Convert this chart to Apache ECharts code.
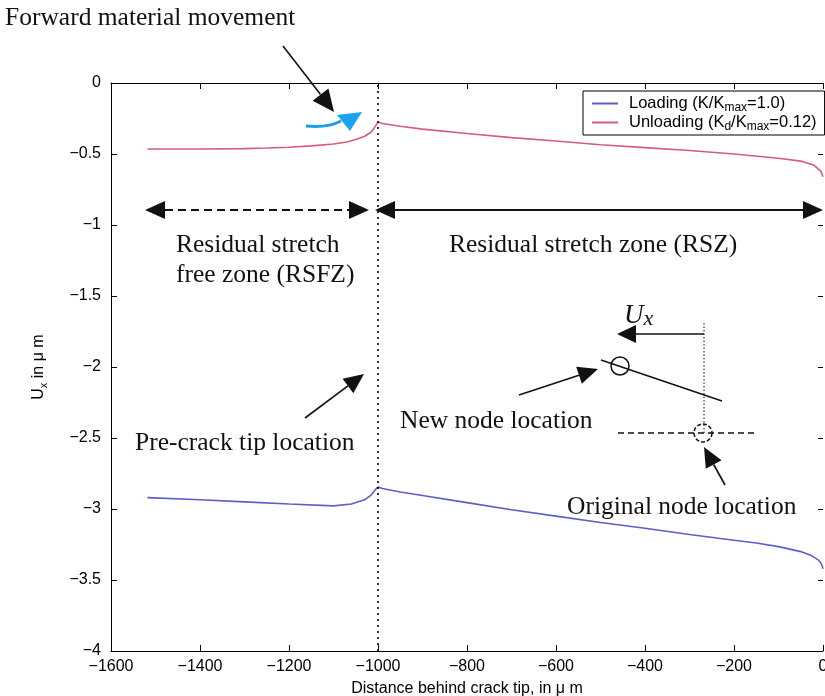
<!DOCTYPE html>
<html><head><meta charset="utf-8">
<script src="https://cdn.jsdelivr.net/npm/echarts@6/dist/echarts.min.js"></script>
<style>html,body{margin:0;padding:0;background:#fff}#c{width:825px;height:696px}</style>
</head><body><div id="c"></div>
<script>
// ---- data ----
const unloadingX = [-1518,-1400,-1300,-1250,-1200,-1150,-1100,-1070,-1050,-1030,-1015,-1005,-1000,-990,-950,-900,-800,-700,-600,-500,-400,-300,-200,-100,-50,-20,-5,0];
const unloadingY = [-0.465,-0.465,-0.462,-0.458,-0.452,-0.443,-0.43,-0.415,-0.398,-0.375,-0.345,-0.30,-0.275,-0.285,-0.305,-0.325,-0.356,-0.385,-0.408,-0.435,-0.455,-0.475,-0.50,-0.53,-0.55,-0.58,-0.62,-0.66];
const loadingX = [-1518,-1400,-1300,-1200,-1100,-1060,-1030,-1015,-1005,-1000,-990,-950,-900,-800,-700,-600,-500,-400,-300,-200,-150,-100,-50,-25,-10,-3,0];
const loadingY = [-2.92,-2.935,-2.95,-2.965,-2.978,-2.965,-2.935,-2.90,-2.86,-2.845,-2.855,-2.88,-2.905,-2.955,-3.005,-3.05,-3.095,-3.135,-3.18,-3.22,-3.24,-3.265,-3.30,-3.33,-3.36,-3.39,-3.42];
const xRange = [-1600, 0], xStep = 200;
const yRange = [-4, 0], yStep = 0.5;
const preCrackTip = -1000;
const seriesNames = ['Loading', 'Unloading'];

const pair = (xs, ys) => xs.map((x, i) => [x, ys[i]]);
const minus = v => String(v).replace('-', '\u2212');

const chart = echarts.init(document.getElementById('c'), null, {renderer: 'canvas'});
const tickFont = {fontFamily: 'Liberation Sans', fontSize: 16, color: '#000'};
const subRich = {
  f: {fontFamily: 'Liberation Sans', fontSize: 16.5, lineHeight: 21, verticalAlign: 'middle', color: '#000', padding: [0, 0, 0, 6]},
  t: {fontFamily: 'Liberation Sans', fontSize: 16.5, lineHeight: 21, verticalAlign: 'middle', color: '#000'},
  s: {fontFamily: 'Liberation Sans', fontSize: 12, lineHeight: 8, verticalAlign: 'bottom', color: '#000'}
};

const option = {
  animation: false,
  backgroundColor: '#fff',
  grid: {left: 111, right: 2, top: 83, bottom: 45, containLabel: false, outerBoundsMode: 'none'},
  legend: {
    orient: 'vertical', left: 583, top: 91,
    data: seriesNames,
    backgroundColor: '#fff', borderColor: '#000', borderWidth: 1,
    padding: [4, 8, 2, 9], itemGap: 0,
    itemWidth: 26, itemHeight: 2, icon: 'rect',
    formatter: n => n === 'Loading'
      ? '{f|Loading (K/K}{s|max}{t|=1.0)}'
      : '{f|Unloading (K}{s|d}{t|/K}{s|max}{t|=0.12)}',
    textStyle: {fontFamily: 'Liberation Sans', fontSize: 16.5, color: '#000', rich: subRich}
  },
  xAxis: [{
    type: 'value', min: xRange[0], max: xRange[1], interval: xStep, position: 'bottom',
    name: 'Distance behind crack tip, in \u03bc m', nameLocation: 'middle', nameGap: 30,
    nameTextStyle: {fontFamily: 'Liberation Sans', fontSize: 16, color: '#000'},
    axisLine: {show: true, onZero: false, lineStyle: {color: '#000', width: 1}},
    axisTick: {show: true, inside: true, length: 6, lineStyle: {color: '#000'}},
    axisLabel: Object.assign({margin: 8, formatter: minus}, tickFont),
    splitLine: {show: false}
  }, {
    type: 'value', min: xRange[0], max: xRange[1], interval: xStep, position: 'top',
    axisLine: {show: true, onZero: false, lineStyle: {color: '#000', width: 1}},
    axisTick: {show: true, inside: true, length: 6, lineStyle: {color: '#000'}},
    axisLabel: {show: false}, splitLine: {show: false}
  }],
  yAxis: [{
    type: 'value', min: yRange[0], max: yRange[1], interval: yStep, position: 'left',
    name: '{t|U}{s|x}{t| in \u03bc m}', nameLocation: 'middle', nameGap: 62, nameRotate: 90,
    nameTextStyle: {
      fontFamily: 'Liberation Sans', fontSize: 16, color: '#000',
      rich: {
        t: {fontFamily: 'Liberation Sans', fontSize: 16, lineHeight: 20, verticalAlign: 'middle', color: '#000'},
        s: {fontFamily: 'Liberation Sans', fontSize: 11, lineHeight: 9, verticalAlign: 'bottom', color: '#000'}
      }
    },
    axisLine: {show: true, onZero: false, lineStyle: {color: '#000', width: 1}},
    axisTick: {show: true, inside: true, length: 6, lineStyle: {color: '#000'}},
    axisLabel: Object.assign({margin: 10, formatter: minus}, tickFont),
    splitLine: {show: false}
  }, {
    type: 'value', min: yRange[0], max: yRange[1], interval: yStep, position: 'right',
    axisLine: {show: false},
    axisTick: {show: true, inside: true, length: 5, lineStyle: {color: '#000'}},
    axisLabel: {show: false}, splitLine: {show: false}
  }],
  series: [{
    name: 'Loading', type: 'line', data: pair(loadingX, loadingY),
    showSymbol: false, symbol: 'none', smooth: false,
    lineStyle: {color: '#5b5fc9', width: 1.6}, itemStyle: {color: '#5b5fc9'},
    markLine: {
      silent: true, symbol: ['none', 'none'], label: {show: false},
      lineStyle: {color: '#000', type: [2, 4], width: 1.6},
      data: [{xAxis: preCrackTip}]
    }
  }, {
    name: 'Unloading', type: 'line', data: pair(unloadingX, unloadingY),
    showSymbol: false, symbol: 'none', smooth: false,
    lineStyle: {color: '#d65c7b', width: 1.6}, itemStyle: {color: '#d65c7b'}
  }]
};
chart.setOption(option);

// ---- annotations (decorations, pixel placed) ----
function arrowHead(x1, y1, x2, y2, len, w, color) {
  const dx = x2 - x1, dy = y2 - y1, L = Math.hypot(dx, dy), ux = dx / L, uy = dy / L;
  const bx = x2 - ux * len, by = y2 - uy * len, px = -uy, py = ux;
  return {base: [bx, by], el: {type: 'polygon', z: 100, shape: {points: [[x2, y2], [bx + px * w, by + py * w], [bx - px * w, by - py * w]]}, style: {fill: color}}};
}
function arrow(x1, y1, x2, y2, len, w, lw, color, dash) {
  const h = arrowHead(x1, y1, x2, y2, len, w, color);
  return [{type: 'line', z: 100, shape: {x1, y1, x2: h.base[0], y2: h.base[1]}, style: {stroke: color, lineWidth: lw, lineDash: dash || null}}, h.el];
}
function dblArrow(x1, y, x2, len, w, lw, color, dash) {
  const a = arrowHead(x2, y, x1, y, len, w, color);
  const b = arrowHead(x1, y, x2, y, len, w, color);
  return [{type: 'line', z: 100, shape: {x1: a.base[0], y1: y, x2: b.base[0], y2: y}, style: {stroke: color, lineWidth: lw, lineDash: dash || null}}, a.el, b.el];
}
const FS = 25.5;
function txt(x, y, s, size) {
  return {type: 'text', z: 100, x, y, style: {text: s, fontFamily: 'Liberation Serif', fontSize: size, fill: '#111', align: 'left', verticalAlign: 'middle'}};
}
const K = '#111';
let g = [];
g.push(txt(5, 18, 'Forward material movement', FS));
g = g.concat(arrow(283, 46, 334, 112, 22, 10, 1.6, K));
g.push({type: 'bezierCurve', z: 100, shape: {x1: 306, y1: 126, x2: 341, y2: 121, cpx1: 328, cpy1: 128}, style: {stroke: '#1a9fe8', lineWidth: 3, fill: null}});
g.push({type: 'polygon', z: 100, shape: {points: [[337, 115], [362, 112], [350, 131]]}, style: {fill: '#1aa3f0'}});
g = g.concat(dblArrow(145, 210, 369, 20, 9, 2, K, [8, 5]));
g = g.concat(dblArrow(375, 210, 823, 20, 9, 2, K));
g.push(txt(176, 245, 'Residual stretch', FS));
g.push(txt(176, 275, 'free zone (RSFZ)', FS));
g.push(txt(449, 245, 'Residual stretch zone (RSZ)', FS));
g.push(txt(135, 443, 'Pre-crack tip location', FS));
g = g.concat(arrow(305, 418, 364, 374, 20, 9, 1.6, K));
g.push(txt(400, 421, 'New node location', FS));
g = g.concat(arrow(519, 395, 598, 369, 20, 9, 1.6, K));
g.push(txt(567, 507, 'Original node location', FS));
g = g.concat(arrow(725, 485, 704, 447, 20, 9, 1.6, K));
// node diagram
g.push({type: 'line', z: 100, shape: {x1: 601, y1: 360, x2: 722, y2: 401}, style: {stroke: K, lineWidth: 1.5}});
g.push({type: 'circle', z: 100, shape: {cx: 620, cy: 366, r: 9}, style: {fill: null, stroke: K, lineWidth: 1.5}});
g.push({type: 'line', z: 100, shape: {x1: 618, y1: 433, x2: 757, y2: 433}, style: {stroke: K, lineWidth: 1.5, lineDash: [6, 4]}});
g.push({type: 'circle', z: 100, shape: {cx: 703, cy: 433, r: 9}, style: {fill: null, stroke: K, lineWidth: 1.5, lineDash: [4, 2]}});
g.push({type: 'line', z: 100, shape: {x1: 704, y1: 323, x2: 704, y2: 433}, style: {stroke: K, lineWidth: 1, lineDash: [1.5, 2]}});
g = g.concat(arrow(704, 334, 617, 334, 19, 9, 1.5, K));
g.push({type: 'text', z: 100, x: 624, y: 316, style: {text: '{u|U}{x|x}', fill: '#111', verticalAlign: 'middle', align: 'left',
  rich: {u: {fontFamily: 'Liberation Serif', fontStyle: 'italic', fontSize: 27, lineHeight: 28, verticalAlign: 'middle', fill: '#111'},
         x: {fontFamily: 'Liberation Serif', fontStyle: 'italic', fontSize: 22, lineHeight: 20, verticalAlign: 'bottom', fill: '#111'}}}});
chart.setOption({graphic: {elements: g}});
</script>
</body></html>
